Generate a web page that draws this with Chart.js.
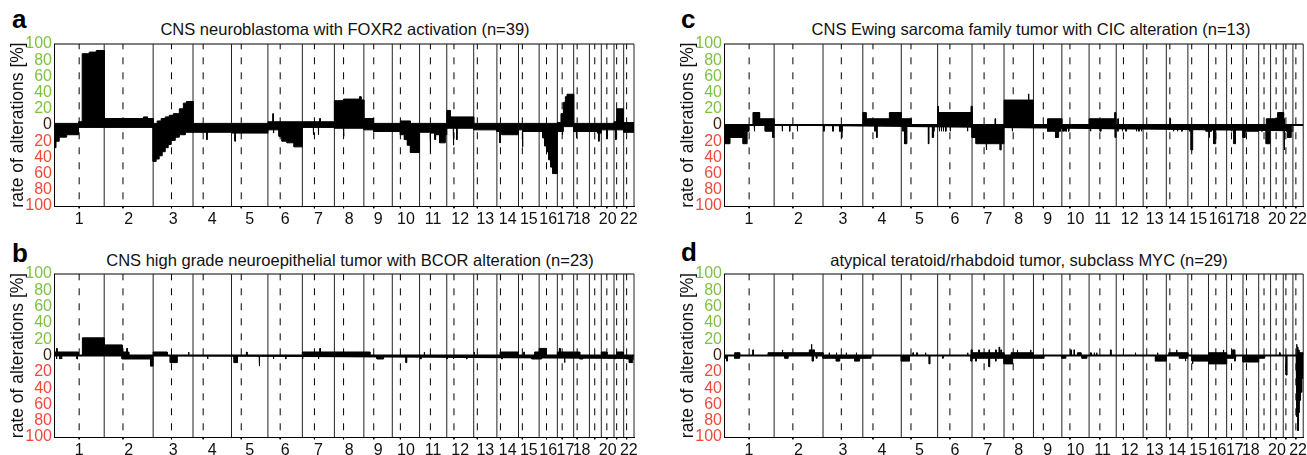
<!DOCTYPE html>
<html lang="en">
  <head>
    <meta charset="UTF-8" />
    <title>Copy number profiles</title>
    <script src="https://cdn.jsdelivr.net/npm/chart.js"></script>
    <style>
      body {
        margin: 0;
        width: 1307px;
        height: 455px;
        overflow: hidden;
        background: #fff;
        font-family: "Liberation Sans", Arial, sans-serif;
        position: relative;
      }
      .panel { position: absolute; }
      .letter {
        position: absolute;
        font-weight: bold;
        font-size: 26px;
        line-height: 26px;
        color: #000;
      }
      .title {
        position: absolute;
        font-size: 16.5px;
        line-height: 16.5px;
        white-space: nowrap;
        transform: translateX(-50%);
        color: #111;
      }
    </style>
  </head>
  <body>
    <div class="letter" style="left:12px; top:6px">a</div>
    <div class="letter" style="left:12px; top:240px">b</div>
    <div class="letter" style="left:681px; top:6px">c</div>
    <div class="letter" style="left:681px; top:239px">d</div>

    <div class="title" style="left:345px; top:21px">CNS neuroblastoma with FOXR2 activation (n=39)</div>
    <div class="title" style="left:350px; top:252px">CNS high grade neuroepithelial tumor with BCOR alteration (n=23)</div>
    <div class="title" style="left:1031px; top:21px">CNS Ewing sarcoma family tumor with CIC alteration (n=13)</div>
    <div class="title" style="left:1029px; top:252px">atypical teratoid/rhabdoid tumor, subclass MYC (n=29)</div>

    <div class="panel" style="left:0; top:0; width:653px; height:226px"><canvas id="chartA"></canvas></div>
    <div class="panel" style="left:0; top:230px; width:653px; height:225px"><canvas id="chartB"></canvas></div>
    <div class="panel" style="left:670px; top:0; width:637px; height:226px"><canvas id="chartC"></canvas></div>
    <div class="panel" style="left:670px; top:230px; width:637px; height:225px"><canvas id="chartD"></canvas></div>

    <script>
      // chromosome sizes and centromeres (Mb, hg19)
      const chromNames = ["1","2","3","4","5","6","7","8","9","10","11","12","13","14","15","16","17","18","19","20","21","22"];
      const chromLengths = [249.3,243.2,198.0,191.2,180.9,171.1,159.1,146.4,141.2,135.5,135.0,133.9,115.2,107.3,102.5,90.4,81.2,78.1,59.1,63.0,48.1,51.3];
      const centromeres = [125.0,93.3,91.0,50.4,48.4,61.0,59.9,45.6,49.0,40.2,53.7,35.8,17.9,17.6,19.0,36.6,24.0,17.2,26.5,27.5,13.2,14.7];
      const tickLabels = ["1","2","3","4","5","6","7","8","9","10","11","12","13","14","15","16","17","18","","20","","22"];
      const yTicks = [-100,-80,-60,-40,-20,0,20,40,60,80,100];

      // segments: [chromosome, start Mb, end Mb, % of samples]
      const gainsA = [
        [1,0,122,2],[1,122,140,4],[1,140,175,88],[1,175,210,90],[1,210,249,92],
        [2,0,195,8],[2,195,215,10],[2,215,243,8],
        [3,0,20,2],[3,20,40,5],[3,40,60,8],[3,60,80,10],[3,80,100,12],[3,100,130,14],[3,130,150,20],[3,150,165,27],[3,165,198,29],
        [4,0,191,2],[5,0,181,2],
        [6,0,171,4],[6,24,27,14],
        [7,0,159,4],[7,86,89,8],
        [8,0,45,30],[8,45,125,32],[8,125,132,35],[8,132,146,31],
        [9,0,48,8],[9,48,141,2],
        [10,0,40,2],[10,40,90,5],[10,90,135,2],
        [11,0,135,2],
        [12,0,17,18],[12,17,134,10],
        [13,0,115,2],[14,0,107,2],[15,0,102,2],[16,0,90,2],
        [17,0,18,3],[17,18,30,14],[17,30,40,28],[17,40,48,35],[17,48,81,38],
        [18,0,78,2],[19,0,59,2],[20,0,63,2],
        [21,0,13,4],[21,13,46,20],[21,46,48,4],
        [22,0,51,3]
      ];
      const lossesA = [
        [1,0,10,28],[1,10,26,20],[1,26,63,15],[1,63,122,12],[1,122,249,3],
        [2,0,243,3],
        [3,0,15,45],[3,15,30,42],[3,30,45,38],[3,45,60,33],[3,60,75,28],[3,75,90,24],[3,90,110,19],[3,110,130,15],[3,130,160,12],[3,160,198,9],
        [4,0,191,9],[4,68,71,18],
        [5,0,181,10],[5,17,20,20],
        [6,0,55,6],[6,27,29,10],[6,55,70,14],[6,70,95,20],[6,95,130,22],[6,130,171,27],
        [7,0,159,3],[7,54,56,12],[7,79,81,12],
        [8,0,146,4],[8,45,47,14],
        [9,0,48,6],[9,48,141,8],
        [10,0,40,8],[10,40,60,12],[10,60,75,18],[10,75,90,25],[10,90,135,34],
        [11,0,50,9],[11,52,55,35],[11,55,76,10],[11,76,80,18],[11,80,100,12],[11,100,128,22],[11,128,135,12],
        [12,0,134,4],[12,32,35,25],[12,49,52,18],
        [13,0,115,6],
        [14,0,25,8],[14,15,18,22],[14,25,107,12],
        [15,0,20,6],[15,19,22,27],[15,22,102,8],
        [16,0,18,8],[16,18,28,16],[16,28,38,26],[16,38,48,33],[16,48,58,43],[16,58,68,52],[16,68,90,60],
        [17,0,30,8],[17,24,27,12],[17,30,81,2],
        [18,0,78,8],[18,12,15,16],
        [19,0,40,8],[19,40,59,10],[19,46,49,20],
        [20,0,63,6],[20,27,30,17],
        [21,0,48,6],[21,9,11,18],
        [22,0,51,9]
      ];

      const gainsB = [
        [1,0,121,4.3],[1,12,15,8.7],[1,141,249,21.7],
        [2,0,89,13],[2,89,122,4.3],[2,112,115,8.7],
        [3,0,70,4.3],[3,175,178,4.3],
        [5,74,77,4.3],
        [7,0,159,4.3],[7,86,90,8.7],
        [8,0,146,4.3],
        [9,0,30,4.3],
        [11,22,25,4.3],
        [13,2,4,4.3],
        [14,16,107,4.3],
        [15,26,29,4.3],[15,80,102,4.3],
        [16,0,36,8.7],
        [17,0,78,4.3],[17,10,14,8.7],
        [18,0,30,4.3],
        [20,0,28,4.3],
        [21,13,46,4.3]
      ];
      const lossesB = [
        [1,12,14,4.3],[1,29,31,4.3],[1,37,39,4.3],[1,114,117,4.3],
        [2,89,230,4.3],[2,230,243,13],
        [3,85,120,8.7],
        [4,72,74,4.3],
        [5,13,30,8.7],[5,137,140,13],
        [6,27,29,4.3],[6,88,90,4.3],
        [7,0,3,4.3],[7,79,82,4.3],
        [9,65,98,4.3],
        [10,68,72,8.7],
        [11,5,8,4.3],
        [12,0,2,4.3],[12,32,35,4.3],[12,98,101,4.3],
        [14,24,27,4.3],
        [15,66,102,4.3],
        [16,0,12,4.3],
        [17,35,38,8.7],
        [18,30,46,4.3],
        [20,44,47,4.3],
        [21,4,7,4.3],
        [22,13,51,4.3],[22,28,45,8.7]
      ];

      const gainsC = [
        [1,144,177,15.4],[1,177,249,7.7],
        [4,0,16,15.4],[4,16,132,7.7],[4,132,191,15.4],
        [5,0,50,7.7],
        [6,0,171,15.4],[6,0,3,23.1],[6,166,171,23.1],
        [7,114,117,7.7],
        [8,0,146,30.8],[8,120,124,38.5],
        [9,70,141,7.7],
        [11,0,132,7.7],[11,127,132,15.4],
        [12,8,10,7.7],
        [14,18,21,7.7],
        [19,38,58,7.7],
        [20,0,35,7.7],[20,35,63,15.4],
        [21,3,6,7.7]
      ];
      const lossesC = [
        [1,0,30,23.1],[1,30,95,15.4],[1,95,115,23.1],[1,115,125,7.7],[1,150,153,7.7],[1,205,243,7.7],[1,243,249,15.4],
        [2,40,42,7.7],[2,77,79,7.7],[2,115,117,7.7],
        [3,4,6,7.7],[3,49,51,7.7],[3,82,96,7.7],[3,92,95,15.4],
        [4,60,62,7.7],[4,68,72,15.4],
        [5,8,10,7.7],[5,16,28,23.1],[5,135,138,23.1],[5,155,158,15.4],[5,162,164,7.7],
        [6,8,10,7.7],[6,18,20,7.7],[6,28,30,7.7],[6,40,42,7.7],[6,62,64,7.7],[6,148,150,7.7],
        [7,0,20,15.4],[7,20,70,23.1],[7,70,74,30.8],[7,74,140,23.1],[7,140,145,30.8],[7,145,159,23.1],
        [8,40,43,7.7],
        [9,70,110,7.7],[9,110,125,15.4],[9,125,135,7.7],
        [10,5,8,7.7],[10,12,15,7.7],[10,20,23,7.7],[10,33,36,7.7],
        [11,6,9,7.7],[11,55,60,7.7],[11,130,134,15.4],
        [12,8,10,7.7],[12,30,32,7.7],[12,48,50,7.7],[12,100,102,7.7],[12,112,114,7.7],[12,124,127,7.7],
        [14,35,37,7.7],[14,55,57,7.7],[14,77,79,7.7],
        [15,10,12,7.7],[15,16,24,30.8],[15,90,100,7.7],
        [16,0,16,7.7],[16,3,6,15.4],[16,26,36,23.1],
        [17,24,26,7.7],[17,36,44,23.1],
        [18,0,11,15.4],[18,11,78,7.7],
        [19,15,18,7.7],[19,37,56,23.1],
        [21,4,7,30.8],[21,16,48,7.7],[21,22,40,15.4]
      ];

      const gainsD = [
        [1,53,78,3.4],[1,143,146,6.9],[1,219,249,3.4],
        [2,0,243,3.4],[2,40,43,6.9],[2,175,200,6.9],[2,184,188,13.8],
        [3,30,32,3.4],[3,66,68,3.4],[3,115,117,3.4],[3,165,167,3.4],
        [5,58,60,3.4],[5,77,79,3.4],[5,120,122,3.4],
        [6,148,151,3.4],[6,166,171,6.9],
        [7,0,159,3.4],[7,33,36,6.9],[7,84,87,6.9],[7,117,120,6.9],[7,134,137,10.3],[7,143,146,6.9],
        [8,35,146,3.4],[8,65,68,6.9],[8,131,134,6.9],
        [10,44,47,6.9],[10,60,63,6.9],[10,78,95,3.4],
        [11,8,10,3.4],[11,25,27,3.4],[11,37,39,3.4],[11,106,109,6.9],
        [12,94,97,3.4],
        [13,71,73,3.4],
        [14,12,107,3.4],[14,50,53,6.9],
        [16,0,90,3.4],[16,73,76,6.9],
        [17,28,40,6.9],
        [20,44,47,3.4],
        [22,16,20,13.8],[22,20,24,10.3],[22,24,30,6.9],[22,30,51,3.4]
      ];
      const lossesD = [
        [1,0,15,3.4],[1,14,17,6.9],[1,53,78,3.4],
        [2,53,70,3.4],[2,190,196,6.9],[2,210,214,3.4],
        [3,0,198,3.4],[3,66,83,6.9],[3,157,182,6.9],
        [4,0,41,3.4],
        [5,0,41,6.9],[5,139,143,10.3],
        [6,25,28,3.4],[6,166,171,6.9],
        [7,0,159,3.4],[7,18,22,6.9],[7,84,88,13.8],[7,117,120,6.9],
        [8,0,43,10.3],[8,43,146,3.4],
        [9,0,53,3.4],
        [10,0,20,3.4],[10,100,125,3.4],
        [13,61,115,6.9],
        [14,65,107,3.4],[14,94,97,6.9],
        [15,20,102,6.9],[15,22,25,10.3],
        [16,0,90,10.3],
        [17,0,45,3.4],[17,40,43,6.9],
        [18,0,78,8],
        [19,0,30,3.4],
        [21,14,19,24],
        [22,16,20,40],[22,20,24,75],[22,24,28,92],[22,28,32,70],[22,32,38,55],[22,38,45,45],[22,45,51,28]
      ];

      Chart.defaults.font.family = "'Liberation Sans', Arial, sans-serif";

      const chromStart = [];
      let total = 0;
      chromLengths.forEach((len) => { chromStart.push(total); total += len; });
      const mids = chromLengths.map((len, i) => chromStart[i] + len / 2);

      function areaPoints(segs, sign) {
        const pts = [];
        segs.forEach(([c, s, e, v]) => {
          const x0 = chromStart[c - 1] + s;
          const x1 = chromStart[c - 1] + Math.min(e, chromLengths[c - 1]);
          pts.push({ x: x0, y: 0 }, { x: x0, y: sign * v }, { x: x1, y: sign * v }, { x: x1, y: 0 });
        });
        return pts;
      }

      function vLines(xs, y0, y1) {
        const pts = [];
        xs.forEach((x) => pts.push({ x: x, y: y0 }, { x: x, y: y1 }, { x: x, y: null }));
        return pts;
      }

      const boundaries = chromStart.slice(1).concat([total]);
      const cenPositions = centromeres.map((c, i) => chromStart[i] + c);

      function makePanel(id, gains, losses, padRight, padBottom) {
        const lineBase = { pointRadius: 0, tension: 0, spanGaps: false };
        new Chart(document.getElementById(id), {
          type: "line",
          data: {
            datasets: [
              { ...lineBase, data: [{ x: 0, y: 0 }, { x: total, y: 0 }], borderColor: "#000", borderWidth: 2, order: 0 },
              { ...lineBase, data: areaPoints(gains, 1), borderColor: "#000", backgroundColor: "#000", borderWidth: 1, fill: "origin", order: 1 },
              { ...lineBase, data: areaPoints(losses, -1), borderColor: "#000", backgroundColor: "#000", borderWidth: 1, fill: "origin", order: 1 },
              { ...lineBase, data: vLines(cenPositions, -100, 100), borderColor: "#000", borderWidth: 1, borderDash: [7, 8], borderDashOffset: 8.3, order: 3 },
              // small axis ticks under the centromeres
              { ...lineBase, data: vLines(cenPositions, -100, -102.8), borderColor: "#000", borderWidth: 1, order: 2, clip: false },
              { ...lineBase, data: vLines(boundaries, -100, 100), borderColor: "#222", borderWidth: 1, order: 2, clip: false },
              { ...lineBase, data: [{ x: 0, y: 100 }, { x: total, y: 100 }], borderColor: "#000", borderWidth: 1, order: 2, clip: false }
            ]
          },
          options: {
            responsive: true,
            maintainAspectRatio: false,
            animation: false,
            devicePixelRatio: 1,
            layout: { padding: { top: 44, right: padRight, left: 0, bottom: padBottom } },
            plugins: { legend: { display: false }, tooltip: { enabled: false } },
            scales: {
              x: {
                type: "linear",
                min: 0,
                max: total,
                afterBuildTicks: (s) => { s.ticks = mids.map((v) => ({ value: v })); },
                afterFit: (s) => { s.height = 18; },
                ticks: {
                  autoSkip: false,
                  maxRotation: 0,
                  minRotation: 0,
                  padding: 0,
                  color: "#111",
                  font: { size: 16 },
                  callback: (v, i) => tickLabels[i]
                },
                grid: { drawOnChartArea: false, tickLength: 4, color: "rgba(0,0,0,0)" },
                border: { color: "#000" }
              },
              y: {
                type: "linear",
                min: -100,
                max: 100,
                afterBuildTicks: (s) => { s.ticks = yTicks.map((v) => ({ value: v })); },
                afterFit: (s) => { s.width = 54; },
                ticks: {
                  autoSkip: false,
                  padding: 2,
                  font: { size: 16 },
                  callback: (v) => Math.abs(v),
                  color: (ctx) => ctx.tick.value > 0 ? "#7dc242" : ctx.tick.value < 0 ? "#ee4a3a" : "#3b1d0a"
                },
                grid: { display: false, drawTicks: false },
                border: { display: true, color: "#000" },
                title: { display: true, text: "rate of alterations [%]", font: { size: 17.5 }, color: "#111", padding: { top: 8, bottom: 0 } }
              }
            }
          }
        });
      }

      makePanel("chartA", gainsA, lossesA, 19, 2);
      makePanel("chartB", gainsB, lossesB, 19, 0);
      makePanel("chartC", gainsC, lossesC, 3, 2);
      makePanel("chartD", gainsD, lossesD, 3, 0);
    </script>
  </body>
</html>
